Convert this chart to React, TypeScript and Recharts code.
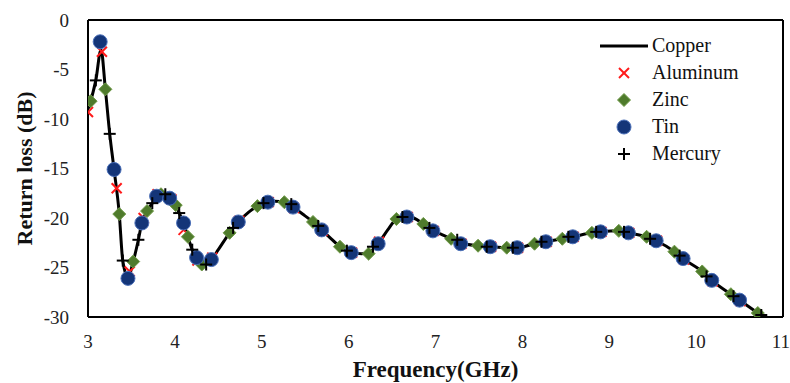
import React from 'react';
import { ComposedChart, Line, Scatter, XAxis, YAxis, ReferenceLine } from 'recharts';

// Copper (solid line)
const copperFreq = [3.0, 3.09, 3.15, 3.2, 3.25, 3.3, 3.36, 3.4, 3.46, 3.52, 3.58, 3.62, 3.68, 3.74, 3.8, 3.86, 3.94, 4.01, 4.05, 4.1, 4.15, 4.2, 4.25, 4.31, 4.36, 4.42, 4.5, 4.63, 4.73, 4.85, 4.95, 5.05, 5.15, 5.26, 5.36, 5.47, 5.59, 5.69, 5.8, 5.9, 6.03, 6.15, 6.23, 6.34, 6.45, 6.55, 6.65, 6.75, 6.86, 6.97, 7.08, 7.18, 7.29, 7.49, 7.63, 7.82, 7.94, 8.14, 8.27, 8.46, 8.58, 8.8, 8.9, 9.11, 9.22, 9.43, 9.54, 9.75, 9.85, 10.07, 10.18, 10.4, 10.5, 10.76];
const copperLoss = [-9.0, -6.1, -3.0, -7.0, -11.5, -15.1, -19.6, -24.3, -26.0, -24.4, -22.2, -20.5, -19.3, -18.5, -17.7, -17.5, -18.0, -18.7, -19.5, -20.5, -21.9, -23.2, -24.0, -24.6, -24.6, -24.2, -23.2, -21.5, -20.4, -19.4, -18.8, -18.4, -18.3, -18.4, -18.9, -19.6, -20.4, -21.2, -22.1, -22.9, -23.5, -23.6, -23.5, -22.6, -21.2, -20.1, -19.8, -20.0, -20.6, -21.3, -21.7, -22.1, -22.5, -22.8, -22.9, -23.0, -23.0, -22.6, -22.4, -22.1, -21.9, -21.5, -21.4, -21.3, -21.5, -21.9, -22.3, -23.4, -24.1, -25.4, -26.3, -27.7, -28.3, -29.9];

const aluminumFreq = [3.0, 3.16, 3.33, 3.48, 3.64, 3.8, 3.96, 4.1, 4.26, 4.43, 4.74, 5.08, 5.37, 5.7, 6.04, 6.35, 6.68, 6.98, 7.3, 7.64, 7.95, 8.28, 8.59, 8.91, 9.23, 9.55, 9.86, 10.19, 10.51];
const aluminumLoss = [-9.3, -3.2, -17.0, -25.4, -20.0, -17.6, -18.1, -21.2, -24.3, -24.0, -20.3, -18.4, -19.0, -21.3, -23.5, -22.4, -19.9, -21.3, -22.6, -22.9, -23.0, -22.4, -21.9, -21.4, -21.5, -22.3, -24.2, -26.4, -28.4];

const zincFreq = [3.03, 3.2, 3.36, 3.52, 3.68, 3.84, 4.01, 4.15, 4.31, 4.63, 4.95, 5.26, 5.59, 5.9, 6.23, 6.55, 6.86, 7.18, 7.49, 7.82, 8.14, 8.46, 8.8, 9.11, 9.43, 9.75, 10.07, 10.4, 10.71];
const zincLoss = [-8.2, -7.0, -19.6, -24.4, -19.3, -17.6, -18.7, -21.9, -24.7, -21.5, -18.8, -18.4, -20.4, -22.9, -23.6, -20.1, -20.6, -22.1, -22.8, -23.0, -22.6, -22.1, -21.5, -21.3, -21.9, -23.4, -25.4, -27.7, -29.6];

const tinFreq = [3.14, 3.3, 3.46, 3.62, 3.79, 3.94, 4.1, 4.25, 4.42, 4.73, 5.07, 5.36, 5.69, 6.03, 6.34, 6.67, 6.97, 7.29, 7.63, 7.94, 8.27, 8.58, 8.9, 9.22, 9.54, 9.85, 10.18, 10.5];
const tinLoss = [-2.2, -15.1, -26.1, -20.5, -17.8, -18.0, -20.5, -24.0, -24.2, -20.4, -18.4, -18.9, -21.2, -23.5, -22.6, -19.9, -21.3, -22.6, -22.9, -23.0, -22.4, -21.9, -21.4, -21.5, -22.3, -24.1, -26.3, -28.3];

const mercuryFreq = [3.09, 3.25, 3.4, 3.58, 3.74, 3.89, 4.05, 4.2, 4.36, 4.67, 5.02, 5.34, 5.65, 5.98, 6.28, 6.62, 6.93, 7.25, 7.59, 7.89, 8.22, 8.53, 8.85, 9.17, 9.47, 9.81, 10.12, 10.43, 10.75];
const mercuryLoss = [-6.1, -11.5, -24.3, -22.2, -18.5, -17.6, -19.5, -23.2, -24.7, -21.0, -18.5, -18.6, -20.8, -23.3, -22.9, -19.9, -21.0, -22.2, -22.9, -23.0, -22.4, -21.9, -21.4, -21.4, -22.1, -23.8, -25.9, -27.9, -29.8];

const xTicks = [3, 4, 5, 6, 7, 8, 9, 10, 11];
const yTicks = [0, -5, -10, -15, -20, -25, -30];

const toPoints = (fs: number[], vs: number[]) => fs.map((f, i) => ({ f, v: vs[i] }));

const FONT = 'Liberation Serif, Times New Roman, serif';

const Cross = ({ cx, cy }: any) => (
  <g stroke="#ff1a1a" strokeWidth={2}>
    <line x1={cx - 5} y1={cy - 5} x2={cx + 5} y2={cy + 5} />
    <line x1={cx - 5} y1={cy + 5} x2={cx + 5} y2={cy - 5} />
  </g>
);

const Diamond = ({ cx, cy }: any) => (
  <path d={`M${cx},${cy - 6.5} L${cx + 6.5},${cy} L${cx},${cy + 6.5} L${cx - 6.5},${cy} Z`} fill="#4f7b2c" stroke="#6f9a48" strokeWidth={1} />
);

const Dot = ({ cx, cy }: any) => (
  <circle cx={cx} cy={cy} r={7} fill="#143578" stroke="#4a6fb8" strokeWidth={1} />
);

const Plus = ({ cx, cy }: any) => (
  <g stroke="#000" strokeWidth={2}>
    <line x1={cx - 6} y1={cy} x2={cx + 6} y2={cy} />
    <line x1={cx} y1={cy - 6} x2={cx} y2={cy + 6} />
  </g>
);

const legendItems = [
  { name: 'Copper', kind: 'line' },
  { name: 'Aluminum', kind: 'cross' },
  { name: 'Zinc', kind: 'diamond' },
  { name: 'Tin', kind: 'dot' },
  { name: 'Mercury', kind: 'plus' },
];

const LegendBox = () => (
  <svg width={175} height={150} style={{ display: 'block' }}>
    {legendItems.map((it, i) => {
      const y = 14 + i * 27;
      return (
        <g key={it.name}>
          {it.kind === 'line' && <line x1={5} y1={y} x2={53} y2={y} stroke="#000" strokeWidth={3} />}
          {it.kind === 'cross' && <Cross cx={29} cy={y} />}
          {it.kind === 'diamond' && <Diamond cx={29} cy={y} />}
          {it.kind === 'dot' && <Dot cx={29} cy={y} />}
          {it.kind === 'plus' && <Plus cx={29} cy={y} />}
          <text x={57} y={y + 6} style={{ fontFamily: FONT, fontSize: 20 }} fill="#111">{it.name}</text>
        </g>
      );
    })}
  </svg>
);

export default function App() {
  return (
    <div style={{ position: 'absolute', left: 0, top: 0, width: 790, height: 383, background: '#fff' }}>
      <ComposedChart width={790} height={383} margin={{ top: 20, right: 7, bottom: 0, left: 0 }}>
        <XAxis
          type="number"
          dataKey="f"
          domain={[3, 11]}
          ticks={xTicks}
          tickLine={false}
          axisLine={{ stroke: '#000', strokeWidth: 2 }}
          tick={{ fontFamily: FONT, fontSize: 19, fill: '#222', style: { fontFamily: FONT } }}
          tickMargin={12}
          allowDataOverflow
          height={66}
          label={{ value: 'Frequency(GHz)', position: 'insideBottom', offset: 6, style: { fontFamily: FONT, fontSize: 23, fontWeight: 'bold', fill: '#111' } }}
        />
        <YAxis
          type="number"
          dataKey="v"
          domain={[-30, 0]}
          ticks={yTicks}
          tickLine={false}
          axisLine={{ stroke: '#000', strokeWidth: 2 }}
          tick={{ fontFamily: FONT, fontSize: 19, fill: '#222', style: { fontFamily: FONT } }}
          tickMargin={13}
          allowDataOverflow
          width={88}
          label={{ value: 'Return loss (dB)', angle: -90, position: 'insideLeft', offset: 0, dx: 24, style: { textAnchor: 'middle', fontFamily: FONT, fontSize: 22, fontWeight: 'bold', fill: '#111' } }}
        />
        <ReferenceLine y={0} stroke="#000" strokeWidth={2} />
        <ReferenceLine x={11} stroke="#000" strokeWidth={2} />
        <Line data={toPoints(copperFreq, copperLoss)} dataKey="v" type="monotone" stroke="#000" strokeWidth={3} dot={false} isAnimationActive={false} />
        <Scatter data={toPoints(aluminumFreq, aluminumLoss)} dataKey="v" shape={<Cross />} isAnimationActive={false} />
        <Scatter data={toPoints(zincFreq, zincLoss)} dataKey="v" shape={<Diamond />} isAnimationActive={false} />
        <Scatter data={toPoints(tinFreq, tinLoss)} dataKey="v" shape={<Dot />} isAnimationActive={false} />
        <Scatter data={toPoints(mercuryFreq, mercuryLoss)} dataKey="v" shape={<Plus />} isAnimationActive={false} />
      </ComposedChart>
      <div style={{ position: 'absolute', left: 595, top: 32 }}>
        <LegendBox />
      </div>
    </div>
  );
}
